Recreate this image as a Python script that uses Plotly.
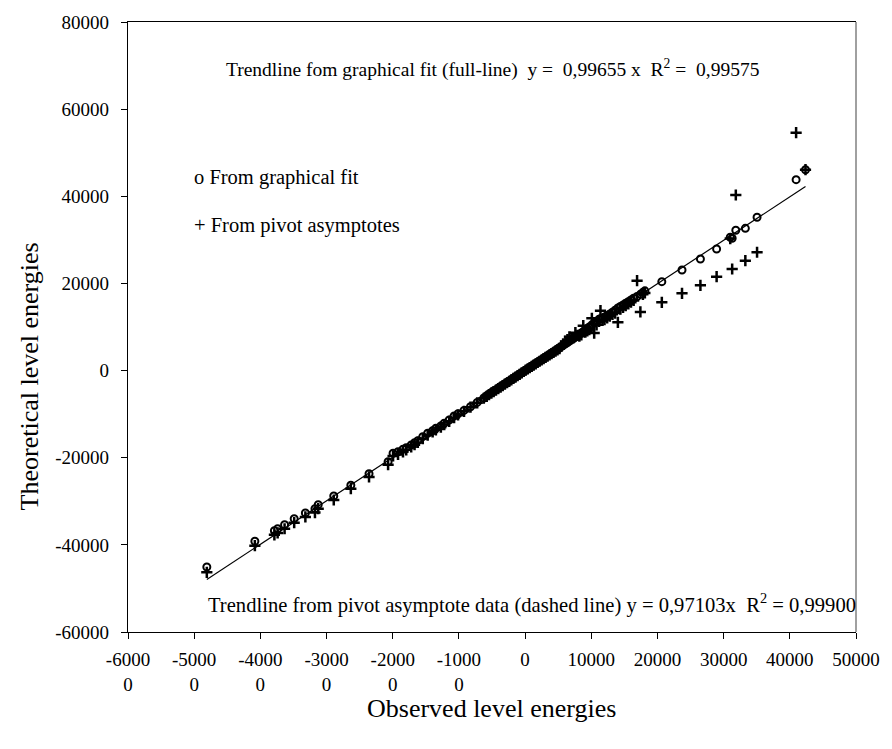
import numpy as np
import plotly.graph_objects as go

# Observed level energies and the two sets of theoretical values
observed = [
    -48090, -40830, -37880, -37390, -36340, -34890, -33200, -31750, -31260, -28910,
    -26330, -23580, -20700,
    -19950, -19200, -18450, -17960, -17210, -16700, -16210, -15460, -14720, -13970,
    -13480, -12730, -12220, -11470, -10730, -10130, -9230, -8250, -7240, -6240,
    -5800, -5450, -5100, -4750, -4400, -4050, -3700, -3380, -3050, -2720,
    -2400, -2080, -1760, -1450, -1130, -820, -510, -200, 100, 400,
    700, 1000, 1300, 1600, 1900, 2200, 2500, 2800, 3100, 3400,
    3700, 4000, 4300, 4600, 4900, 5200, 5500, 5800, 6100, 6400,
    6700, 7000, 7300, 7600, 7900, 8200, 8500, 8790, 9100, 9400,
    9700, 10090, 10440, 10800, 11180, 11390, 11700, 12000, 12400, 12800,
    13200, 13600, 14020, 14400, 14800, 15200, 15600, 16000, 16400, 16920,
    17420, 17800, 18100, 20660, 23710, 26490, 28940, 31000, 31290, 31840,
    33280, 35050, 40950, 42370,
]

theo_graphical = [
    -45080, -39180, -36750, -36290, -35370, -33990, -32690, -31700, -30780, -28780,
    -26330, -23670, -20910,
    -18980, -18620, -18070, -17700, -17080, -16550, -16090, -15170, -14390, -13800,
    -13250, -12720, -12100, -11340, -10420, -9900, -9150, -8300, -7300, -6300,
    -5750, -5400, -5050, -4700, -4380, -4020, -3660, -3350, -3030, -2700,
    -2380, -2070, -1750, -1440, -1120, -810, -500, -190, 110, 410,
    710, 1020, 1310, 1620, 1910, 2230, 2510, 2830, 3120, 3420,
    3730, 4020, 4330, 4620, 4940, 5230, 5540, 5830, 6150, 6450,
    6760, 7100, 7350, 7700, 8000, 8300, 8650, 8950, 9300, 9650,
    10000, 10500, 10900, 11200, 11770, 11900, 12000, 12300, 12650, 13000,
    13400, 13850, 14360, 14700, 15050, 15450, 15800, 16200, 16600, 17000,
    17500, 17950, 18300, 20400, 23080, 25610, 27900, 30600, 30360, 32200,
    32650, 35180, 43810, 46100,
]

theo_pivot = [
    -46300, -40190, -37700, -37250, -36300, -34900, -33600, -32600, -31700, -29700,
    -27100, -24400, -21600,
    -19600, -19250, -18650, -18200, -17500, -17000, -16500, -15600, -14800, -14100,
    -13600, -13000, -12400, -11650, -10800, -10200, -9350, -8400, -7400, -6350,
    -5900, -5520, -5180, -4850, -4480, -4130, -3790, -3450, -3120, -2790,
    -2460, -2140, -1810, -1500, -1170, -850, -530, -210, 90, 380,
    680, 970, 1260, 1550, 1850, 2140, 2430, 2720, 3010, 3290,
    3590, 3880, 4170, 4460, 4750, 5040, 5600, 6100, 6700, 7100,
    7750, 7300, 7500, 8700, 8100, 7900, 8200, 10300, 8800, 9100,
    9400, 12000, 8600, 10500, 11300, 13740, 11500, 11700, 12100, 12500,
    12900, 13200, 11080, 14100, 14500, 14900, 15300, 15700, 16100, 20630,
    13450, 17500, 17800, 15670, 17740, 19570, 21550, 30300, 23310, 40300,
    25220, 27150, 54590, 46100,
]

# Trendline slope of the graphical-fit data
slope_graphical = 0.99655

FONT = "Liberation Serif"

x_tickvals = list(range(-60000, 50001, 10000))
x_ticktext = [f"{v // 10}<br>0" if v < 0 else str(v) for v in x_tickvals]
y_tickvals = list(range(-60000, 80001, 20000))
y_ticktext = [str(v) for v in y_tickvals]

fig = go.Figure()

trend_x = np.array([min(observed), max(observed)])
fig.add_trace(go.Scatter(
    x=trend_x, y=slope_graphical * trend_x, mode="lines",
    line=dict(color="black", width=1.2), showlegend=False, hoverinfo="skip",
))

fig.add_trace(go.Scatter(
    x=observed, y=theo_pivot, mode="markers", name="From pivot asymptotes",
    marker=dict(symbol="cross-thin", size=8, line=dict(color="black", width=2.5)),
    showlegend=False,
))
fig.add_trace(go.Scatter(
    x=observed, y=theo_graphical, mode="markers", name="From graphical fit",
    marker=dict(symbol="circle-open", size=7, color="black", line=dict(color="black", width=2)),
    showlegend=False,
))

nb = "\u00a0"
annotations = [
    dict(text=f"Trendline fom graphical fit (full-line){nb} y ={nb} 0,99655 x{nb} R<sup>2</sup> ={nb} 0,99575",
         x=0.5007, y=0.923, xanchor="center", yanchor="middle", size=19.5),
    dict(text="o From graphical fit", x=0.0884, y=0.7447, xanchor="left", yanchor="middle", size=20.5),
    dict(text="+ From pivot asymptotes", x=0.0884, y=0.6661, xanchor="left", yanchor="middle", size=20.5),
    dict(text=f"Trendline from pivot asymptote data (dashed line) y = 0,97103x{nb} R<sup>2</sup> = 0,99900",
         x=0.1075, y=0.0475, xanchor="left", yanchor="middle", size=20.6),
]
for a in annotations:
    size = a.pop("size")
    a.update(xref="paper", yref="paper", showarrow=False,
             font=dict(family=FONT, size=size, color="black"))

# Axis titles
annotations.append(dict(text="Observed level energies", xref="paper", yref="paper",
                        x=0.4993, y=-0.126, xanchor="center", yanchor="middle",
                        showarrow=False, font=dict(family=FONT, size=26, color="black")))
annotations.append(dict(text="Theoretical level energies", xref="paper", yref="paper",
                        x=-0.136, y=0.419, xanchor="center", yanchor="middle", textangle=-90,
                        showarrow=False, font=dict(family=FONT, size=26, color="black")))

fig.update_layout(
    width=892, height=749,
    margin=dict(l=128, r=29, t=21, b=117),
    paper_bgcolor="white", plot_bgcolor="white",
    font=dict(family=FONT, size=20, color="black"),
    annotations=annotations,
    shapes=[dict(type="line", xref="paper", yref="paper", x0=1, x1=1, y0=0, y1=1,
                 line=dict(color="#808080", width=1.5))],
)
fig.update_xaxes(
    range=[-60000, 50000], tickvals=x_tickvals, ticktext=x_ticktext,
    showgrid=False, zeroline=False, showline=True, linecolor="black", linewidth=1.3,
    mirror=True, ticks="outside", ticklen=6, tickcolor="black", ticklabelstandoff=4,
    tickfont=dict(family=FONT, size=19, color="black"),
)
fig.update_yaxes(
    range=[-60000, 80000], tickvals=y_tickvals, ticktext=y_ticktext,
    showgrid=False, zeroline=False, showline=True, linecolor="black", linewidth=1.3,
    ticks="outside", ticklen=6, tickcolor="black", ticklabelstandoff=8,
    tickfont=dict(family=FONT, size=19, color="black"),
)

fig.write_html("out.html")
